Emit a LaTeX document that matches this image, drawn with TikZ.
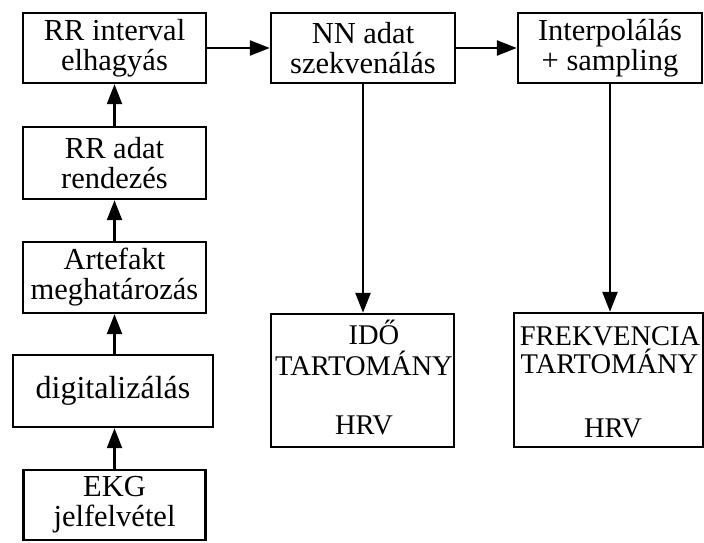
\documentclass[tikz,border=0pt]{standalone}
\usepackage{fontspec}
\setmainfont{Liberation Serif}
\usetikzlibrary{arrows.meta}
\begin{document}
\begin{tikzpicture}[x=1pt,y=-1pt,
  box/.style={draw, line width=2.4pt, inner sep=0pt, align=center, font=\fontsize{30.5}{30}\selectfont},
  tall/.style={draw, line width=2.4pt, inner sep=0pt},
  lbl/.style={anchor=base, inner sep=0pt, font=\fontsize{28.5}{30}\selectfont},
  conn/.style={line width=2.4pt, -{Triangle[length=20pt,width=15pt]}}]
\useasboundingbox (0,0) rectangle (704,543);
% left column
\node[box, minimum width=183pt, minimum height=70pt] (b1) at (114.5,48) {RR interval\\elhagyás};
\node[box, minimum width=183pt, minimum height=72pt] (b2) at (114.5,163) {RR adat\\rendezés};
\node[box, minimum width=183pt, minimum height=71pt] (b3) at (114.5,277.5) {Artefakt\\meghatározás};
\node[box, minimum width=200pt, minimum height=72pt, font=\fontsize{32}{30}\selectfont] (b4) at (113,391) {digitalizálás};
\node[box, minimum width=182pt, minimum height=70pt] (b5) at (114.5,505) {EKG\\jelfelvétel};
% top row
\node[box, minimum width=184pt, minimum height=70pt] (n1) at (363,48) {NN adat\\szekvenálás};
\node[box, minimum width=184pt, minimum height=70pt] (n2) at (610,48) {Interpolálás\\+ sampling};
% result boxes
\node[tall, minimum width=183pt, minimum height=133pt] (t1) at (362.5,380.5) {};
\node[lbl] (t1a) at (374,344) {IDŐ};
\node[lbl] (t1b) at (364,375) {TARTOMÁNY};
\node[lbl] (t1c) at (364,434) {HRV};
\node[tall, minimum width=189pt, minimum height=134pt] (t2) at (608.5,380) {};
\node[lbl] (t2a) at (610,345) {FREKVENCIA};
\node[lbl] (t2b) at (609.5,373) {TARTOMÁNY};
\node[lbl] (t2c) at (613,437) {HRV};
% connectors
\draw[conn] (b5.north) -- (b5.north |- b4.south);
\draw[conn] (b4.north -| b3.south) -- (b3.south);
\draw[conn] (b3.north) -- (b2.south);
\draw[conn] (b2.north) -- (b1.south);
\draw[conn] (b1.east) -- (n1.west);
\draw[conn] (n1.east) -- (n2.west);
\draw[conn] (n1.south) -- (n1.south |- t1.north);
\draw[conn] (n2.south) -- (n2.south |- t2.north);
\end{tikzpicture}
\end{document}
